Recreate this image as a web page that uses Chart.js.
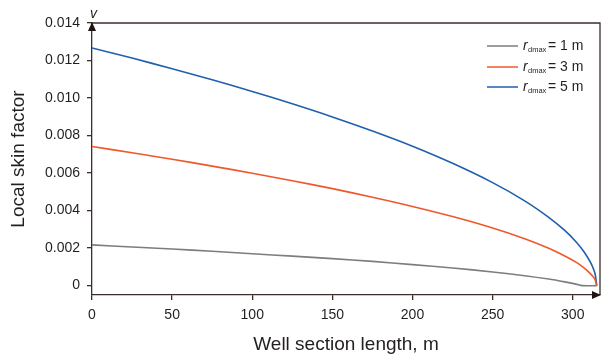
<!DOCTYPE html>
<html>
<head>
<meta charset="utf-8">
<title>Local skin factor</title>
<script src="https://cdn.jsdelivr.net/npm/chart.js@4.4.1/dist/chart.umd.min.js"></script>
<style>
    html, body { margin: 0; padding: 0; background: #ffffff; }
    #wrap { width: 607px; height: 358px; position: relative; }
</style>
</head>
<body>
<div id="wrap"><canvas id="skinChart"></canvas></div>
<script>
// --------- Data --------

// well section length, m (blue / red curves)
const lengthSteps = [0, 25, 50, 75, 100, 125, 150, 175, 200, 225, 250, 270, 285, 295, 302, 307, 311, 313, 314, 315];
// well section length, m (grey curve)
const lengthStepsGrey = [0, 25, 50, 75, 100, 125, 150, 175, 200, 225, 250, 270, 285, 295, 302, 306, 315];

const skin1m = [0.00217, 0.00206, 0.00195, 0.00183, 0.00170, 0.00157, 0.00144, 0.00129, 0.00112, 0.00094, 0.00073, 0.00053, 0.00035, 0.00020, 0.00008, 0, 0];
const skin3m = [0.00742, 0.00708, 0.00674, 0.00637, 0.00599, 0.00559, 0.00517, 0.00471, 0.00422, 0.00368, 0.00307, 0.00250, 0.00199, 0.00158, 0.00125, 0.00095, 0.00064, 0.00044, 0.00030, 0];
const skin5m = [0.01267, 0.01213, 0.01156, 0.01097, 0.01035, 0.00969, 0.00899, 0.00824, 0.00743, 0.00652, 0.00549, 0.00452, 0.00364, 0.00294, 0.00234, 0.00181, 0.00125, 0.00087, 0.00060, 0];

const seriesNames = ['1 m', '3 m', '5 m'];
const seriesColors = ['#7d7d7d', '#f0572a', '#1f5fae'];

const xTicks = [0, 50, 100, 150, 200, 250, 300];
const yTicks = [0, 0.002, 0.004, 0.006, 0.008, 0.010, 0.012, 0.014];

const axisColor = '#3b2e2c';
const textColor = '#231f20';
const fontFamily = '"Liberation Sans", Arial, sans-serif';

// build {x, y} points from the arrays
const toPoints = (xs, ys) => ys.map((y, i) => ({ x: xs[i], y: y }));

// --------- Frame, arrows and legend --------

const framePlugin = {
    id: 'frame',
    afterDraw(chart) {
        const ctx = chart.ctx;
        const area = chart.chartArea;
        ctx.save();

        // top and right border
        ctx.strokeStyle = axisColor;
        ctx.lineWidth = 1.3;
        ctx.beginPath();
        ctx.moveTo(area.left, area.top);
        ctx.lineTo(area.right, area.top);
        ctx.lineTo(area.right, area.bottom);
        ctx.stroke();

        // arrow heads
        ctx.fillStyle = '#1e1412';
        ctx.beginPath();
        ctx.moveTo(area.left, area.top - 1);
        ctx.lineTo(area.left - 4, area.top + 8);
        ctx.lineTo(area.left + 4, area.top + 8);
        ctx.closePath();
        ctx.fill();
        ctx.beginPath();
        ctx.moveTo(area.right + 1, area.bottom);
        ctx.lineTo(area.right - 8, area.bottom - 4);
        ctx.lineTo(area.right - 8, area.bottom + 4);
        ctx.closePath();
        ctx.fill();

        // "v" above y axis
        ctx.fillStyle = textColor;
        ctx.font = 'italic 14px ' + fontFamily;
        ctx.textAlign = 'left';
        ctx.textBaseline = 'middle';
        ctx.fillText('v', area.left - 2, area.top - 9);

        // legend
        const rowY = [46, 67, 87];
        seriesNames.forEach((name, i) => {
            const y = rowY[i];
            ctx.strokeStyle = seriesColors[i];
            ctx.lineWidth = 1.5;
            ctx.beginPath();
            ctx.moveTo(487, y);
            ctx.lineTo(518, y);
            ctx.stroke();

            ctx.fillStyle = textColor;
            ctx.font = 'italic 14px ' + fontFamily;
            ctx.fillText('r', 523, y);
            ctx.font = '7.5px ' + fontFamily;
            ctx.fillText('dmax', 528, y + 4);
            ctx.font = '14px ' + fontFamily;
            ctx.fillText('= ' + name, 548, y);
        });

        ctx.restore();
    }
};

// --------- Chart --------

const ctxSkin = document.getElementById('skinChart').getContext('2d');
const skinChart = new Chart(ctxSkin, {
    type: 'line',
    data: {
        datasets: [{
            label: 'rdmax = ' + seriesNames[0],
            data: toPoints(lengthStepsGrey, skin1m),
            borderColor: seriesColors[0],
            borderWidth: 1.6,
            pointRadius: 0,
            tension: 0.3,
        }, {
            label: 'rdmax = ' + seriesNames[1],
            data: toPoints(lengthSteps, skin3m),
            borderColor: seriesColors[1],
            borderWidth: 1.6,
            pointRadius: 0,
            tension: 0.3,
        }, {
            label: 'rdmax = ' + seriesNames[2],
            data: toPoints(lengthSteps, skin5m),
            borderColor: seriesColors[2],
            borderWidth: 1.6,
            pointRadius: 0,
            tension: 0.3,
        }]
    },
    options: {
        responsive: true,
        maintainAspectRatio: false,
        animation: false,
        layout: { padding: { left: 0, top: 23, right: 7, bottom: 0 } },
        plugins: {
            legend: { display: false },
            tooltip: { enabled: false }
        },
        scales: {
            x: {
                type: 'linear',
                min: 0,
                max: 317,
                afterBuildTicks: (scale) => { scale.ticks = xTicks.map(v => ({ value: v })); },
                afterFit: (scale) => { scale.height = 63; },
                grid: { drawOnChartArea: false, drawTicks: true, tickLength: 5, color: axisColor, lineWidth: 1.3 },
                border: { display: true, color: axisColor, width: 1.3 },
                ticks: { color: textColor, padding: 7, maxRotation: 0, font: { family: fontFamily, size: 14 } },
                title: {
                    display: true,
                    text: 'Well section length, m',
                    color: textColor,
                    padding: { top: 0, bottom: 2 },
                    font: { family: fontFamily, size: 19 }
                }
            },
            y: {
                min: -0.0005,
                max: 0.014,
                afterBuildTicks: (scale) => { scale.ticks = yTicks.map(v => ({ value: v })); },
                afterFit: (scale) => { scale.width = 92; },
                grid: { drawOnChartArea: false, drawTicks: true, tickLength: 5, color: axisColor, lineWidth: 1.3 },
                border: { display: true, color: axisColor, width: 1.3 },
                ticks: {
                    color: textColor,
                    padding: 7,
                    font: { family: fontFamily, size: 14 },
                    callback: (v) => v === 0 ? '0' : v.toFixed(3)
                },
                title: {
                    display: true,
                    text: 'Local skin factor',
                    color: textColor,
                    padding: { top: 7, bottom: 0 },
                    font: { family: fontFamily, size: 19 }
                }
            }
        }
    },
    plugins: [framePlugin]
});
</script>
</body>
</html>
